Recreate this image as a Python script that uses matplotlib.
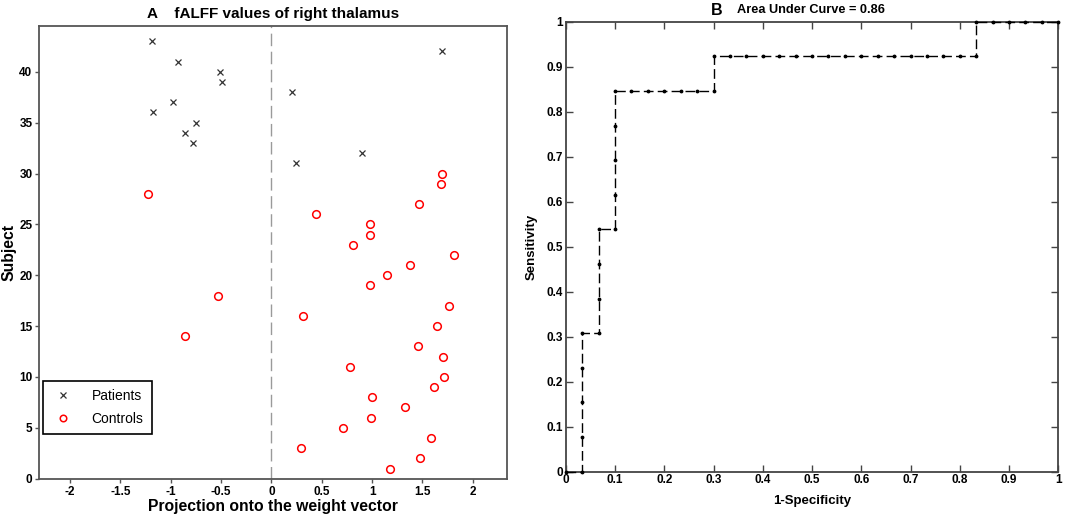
import matplotlib
matplotlib.use("Agg")
import matplotlib.pyplot as plt
from matplotlib import font_manager
import numpy as np

# pick a narrow font for the tick labels if there is one
names = {f.name for f in font_manager.fontManager.ttflist}
NARROW = "Liberation Sans Narrow" if "Liberation Sans Narrow" in names else "Liberation Sans"
plt.rcParams["font.family"] = ["Liberation Sans", "DejaVu Sans"]

# Panel A data: projection onto the weight vector per subject
patient_subject = [43, 41, 40, 39, 37, 36, 35, 34, 33, 42, 38, 31, 32]
patient_proj = [-1.185, -0.927, -0.513, -0.493, -0.980, -1.172, -0.748, -0.861,
                -0.781, 1.699, 0.205, 0.242, 0.904]

control_subject = list(range(1, 31))
control_proj = [1.175, 1.480, 0.291, 1.586, 0.715, 0.987, 1.325, 1.003, 1.613, 1.715,
                0.781, 1.705, 1.454, -0.858, 1.649, 0.318, 1.765, -0.530, 0.977, 1.146,
                1.377, 1.815, 0.811, 0.977, 0.977, 0.447, 1.470, -1.228, 1.689, 1.699]

# Panel B data: ROC curve (30 controls, 13 patients)
fpr = [0, 1/30, 1/30, 1/30, 1/30, 1/30,
       2/30, 2/30, 2/30, 2/30,
       3/30, 3/30, 3/30, 3/30, 3/30,
       4/30, 5/30, 6/30, 7/30, 8/30, 9/30,
       9/30, 10/30, 11/30, 12/30, 13/30, 14/30, 15/30, 16/30, 17/30, 18/30,
       19/30, 20/30, 21/30, 22/30, 23/30, 24/30, 25/30,
       25/30, 26/30, 27/30, 28/30, 29/30, 1.0]
tpr = [0, 0, 1/13, 2/13, 3/13, 4/13,
       4/13, 5/13, 6/13, 7/13,
       7/13, 8/13, 9/13, 10/13, 11/13,
       11/13, 11/13, 11/13, 11/13, 11/13, 11/13,
       12/13, 12/13, 12/13, 12/13, 12/13, 12/13, 12/13, 12/13, 12/13, 12/13,
       12/13, 12/13, 12/13, 12/13, 12/13, 12/13, 12/13,
       1, 1, 1, 1, 1, 1]

fig = plt.figure(figsize=(10.84, 5.15), dpi=100)

# ---------------- Panel A ----------------
ax1 = fig.add_axes([0.0363, 0.0705, 0.4312, 0.879])
ax1.axvline(0, color="#9a9a9a", linestyle=(0, (9, 4)), linewidth=1.0, zorder=1)
ax1.plot(patient_proj, patient_subject, linestyle="none", marker="x", color="#333333",
         markersize=5, markeredgewidth=0.9, label="Patients", zorder=3)
ax1.plot(control_proj, control_subject, linestyle="none", marker="o", color="red",
         markerfacecolor="none", markersize=5.5, markeredgewidth=1.1, label="Controls", zorder=3)
ax1.set_xlim(-2.305, 2.338)
ax1.set_ylim(0, 44.5)
ax1.set_xticks(np.arange(-2, 2.01, 0.5))
ax1.set_xticklabels(["-2", "-1.5", "-1", "-0.5", "0", "0.5", "1", "1.5", "2"])
ax1.set_yticks(np.arange(0, 41, 5))
for sp in ax1.spines.values():
    sp.set_color("#555555")
    sp.set_linewidth(1.3)
ax1.tick_params(direction="out", length=3, width=1, color="#555555", pad=2)
for lab in ax1.get_xticklabels() + ax1.get_yticklabels():
    lab.set_fontfamily(NARROW)
    lab.set_fontweight("bold")
    lab.set_fontsize(8.5)
ax1.set_xlabel("Projection onto the weight vector", fontsize=11.3, fontweight="bold", labelpad=1)
ax1.set_ylabel("Subject", fontsize=11.3, fontweight="bold", labelpad=2)
ax1.set_title("A    fALFF values of right thalamus", fontsize=11, fontweight="bold", pad=6)
leg = ax1.legend(loc="lower left", bbox_to_anchor=(0.008, 0.099), borderaxespad=0,
                 fontsize=10, fancybox=False, framealpha=1, edgecolor="black",
                 markerscale=0.85, handlelength=1.6, handletextpad=1.3,
                 borderpad=0.6, labelspacing=0.6)
leg.get_frame().set_linewidth(1.2)

# ---------------- Panel B ----------------
ax2 = fig.add_axes([0.5219, 0.0841, 0.4544, 0.8738])
ax2.plot(fpr, tpr, color="black", linestyle=(0, (7, 3)), linewidth=1.0,
         marker=".", markersize=3.5, clip_on=False, zorder=3)
ax2.set_xlim(0, 1)
ax2.set_ylim(0, 1)
ticks = np.round(np.arange(0, 1.01, 0.1), 1)
tick_labels = ["0"] + [f"{t:g}" for t in ticks[1:-1]] + ["1"]
ax2.set_xticks(ticks)
ax2.set_xticklabels(tick_labels)
ax2.set_yticks(ticks)
ax2.set_yticklabels(tick_labels)
for sp in ax2.spines.values():
    sp.set_color("#444444")
    sp.set_linewidth(1.3)
ax2.tick_params(direction="in", length=5, width=1, color="#444444",
                top=True, right=True, pad=2)
for lab in ax2.get_xticklabels() + ax2.get_yticklabels():
    lab.set_fontfamily(NARROW)
    lab.set_fontweight("bold")
    lab.set_fontsize(8.5)
ax2.set_xlabel("1-Specificity", fontsize=9.5, fontweight="bold", labelpad=6)
ax2.set_ylabel("Sensitivity", fontsize=9.5, fontweight="bold", labelpad=6)
ax2.text(0.295, 1.008, "B", transform=ax2.transAxes, fontsize=11.5, fontweight="bold",
         ha="left", va="bottom")
ax2.text(0.348, 1.012, "Area Under Curve = 0.86", transform=ax2.transAxes, fontsize=9.2,
         fontweight="bold", ha="left", va="bottom")

fig.savefig("out.png", dpi=100)
